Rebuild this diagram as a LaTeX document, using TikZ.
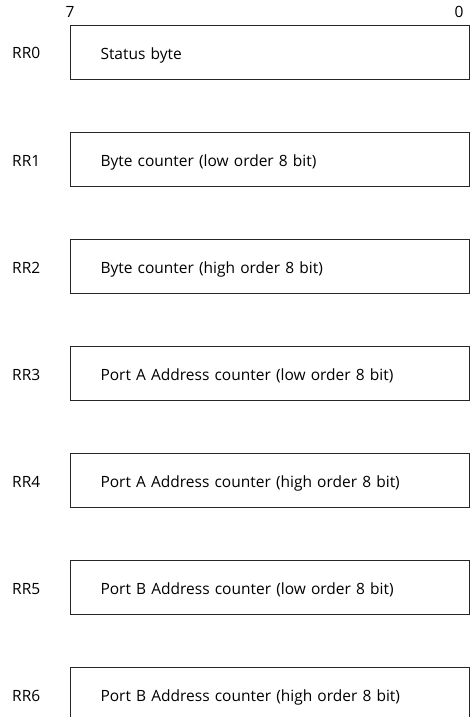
\documentclass[tikz,border=0pt]{standalone}
\usepackage{fontspec}
\setmainfont{Open Sans}
\begin{document}
\begin{tikzpicture}[x=1pt,y=-1pt,
  reg/.style={draw=black!85, line width=1pt, minimum height=54pt,
    text width=339pt, inner xsep=30pt, inner ysep=0pt, align=left,
    text height=34pt, text depth=20pt,
    anchor=north west, font=\fontsize{15.5}{18}\selectfont},
  lbl/.style={anchor=base west, inner sep=0pt, font=\fontsize{15.5}{18}\selectfont},
  bitn/.style={anchor=base, inner sep=0pt, font=\fontsize{15.5}{18}\selectfont}]
\useasboundingbox (0,0) rectangle (471,717);
\clip (0,0) rectangle (471,717);
\node[bitn] (b7) at (70,18) {7};
\node[bitn] (b0) at (459,18) {0};
\foreach \i/\t in {0/Status byte,
  1/Byte counter (low order 8 bit),
  2/Byte counter (high order 8 bit),
  3/Port A Address counter (low order 8 bit),
  4/Port A Address counter (high order 8 bit),
  5/Port B Address counter (low order 8 bit),
  6/Port B Address counter (high order 8 bit)} {
  \node[reg] (r\i) at (70,{25+107*\i}) {\t};
  \node[lbl] (l\i) at (12,{59+107*\i}) {RR\i};
}
\end{tikzpicture}
\end{document}
